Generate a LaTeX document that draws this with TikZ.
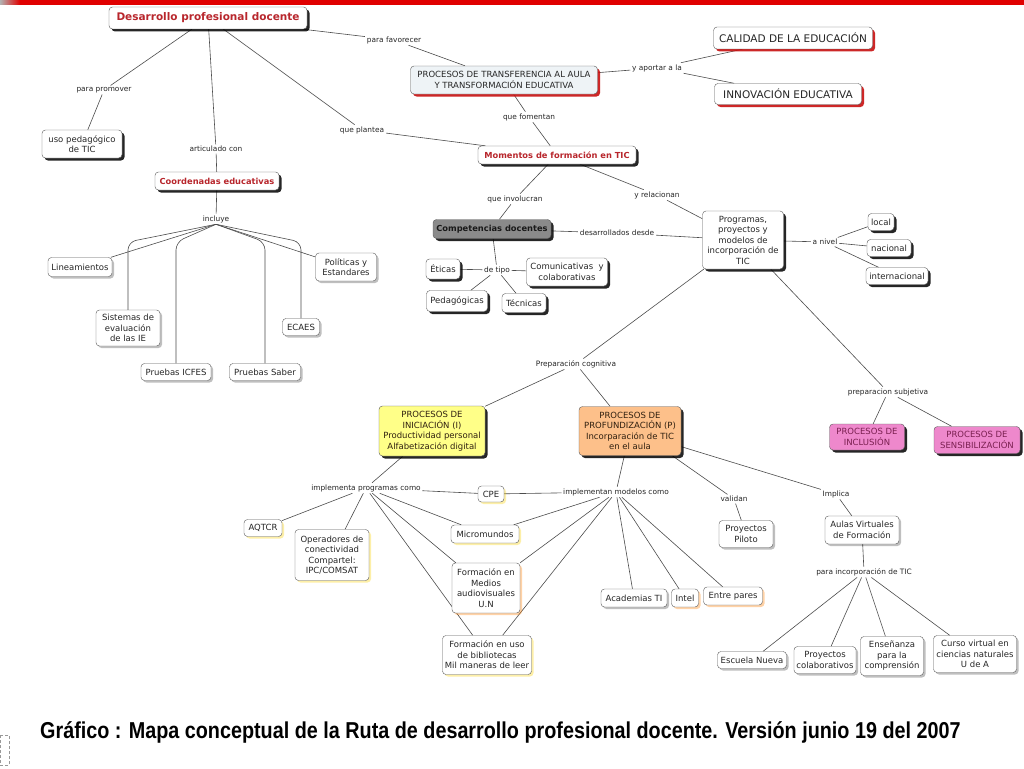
\documentclass[tikz,border=0pt]{standalone}
\usepackage{fontspec}
\setmainfont{DejaVu Sans}
\newfontfamily\capfont{Liberation Sans}
\usepackage{graphicx}
\usetikzlibrary{shadows}
\definecolor{tred}{HTML}{B8262C}
\definecolor{barred}{HTML}{E00000}
\definecolor{shred}{HTML}{C81010}
\definecolor{transf}{HTML}{EEF3F6}
\definecolor{compg}{HTML}{8A8A8A}
\definecolor{yel}{HTML}{FFFF88}
\definecolor{ora}{HTML}{FDC08A}
\definecolor{pink}{HTML}{EE88CC}
\definecolor{pinktxt}{HTML}{7A2050}
\newcommand\cfont{\fontsize{8.5}{10.5}\selectfont}
\newcommand\lfont{\fontsize{7.4}{9}\selectfont}
\newcommand\bigfont{\fontsize{10.5}{12.5}\selectfont}
\newcommand\boldfont{\fontsize{8.3}{10}\selectfont\bfseries}
\newcommand\titfont{\fontsize{10.5}{12.5}\selectfont\bfseries}
\pgfdeclarelayer{bgfill}
\pgfdeclarelayer{background}
\pgfsetlayers{bgfill,background,main}
\begin{document}
\begin{tikzpicture}[x=1pt,y=-1pt,
  base/.style={draw=black!65, rounded corners=3.5pt, align=center, inner sep=1pt, fill=white, text=black!85, font=\cfont},
  sz/.style 2 args={minimum width=#1pt, minimum height=#2pt},
  hardsh/.style={drop shadow={shadow xshift=2.5pt, shadow yshift=-2.5pt, fill=black, opacity=0.85}},
  redsh/.style={drop shadow={shadow xshift=2.5pt, shadow yshift=-2.5pt, fill=shred, opacity=0.9}},
  softsh/.style={drop shadow={shadow xshift=2pt, shadow yshift=-2pt, fill=black, opacity=0.25}},
  ylwsh/.style={drop shadow={shadow xshift=2pt, shadow yshift=-2pt, fill=yellow!70!orange, opacity=0.35}},
  orsh/.style={drop shadow={shadow xshift=2pt, shadow yshift=-2pt, fill=orange, opacity=0.35}},
  lbl/.style={font=\lfont, text=black!85, inner sep=1.5pt, fill=white},
  ln/.style={draw=black!70, line width=0.6pt}
]
\useasboundingbox (0,0) rectangle (1024,768);
\begin{pgfonlayer}{bgfill}
\fill[white] (0,0) rectangle (1024,768);
\fill[barred] (20,0) rectangle (1024,5);
\shade[left color=black!30, right color=barred] (0,0) rectangle (20,5);
\draw[black!40, densely dashed, line width=0.4pt] (0,735) rectangle (9,765);
\end{pgfonlayer}

% ---------- upper concepts
\node[base, hardsh, sz={198}{22}, font=\titfont, text=tred] (dpd) at (208,18) {Desarrollo profesional docente};
\node[base, redsh, sz={187}{28}, fill=transf] (ptr) at (504,80) {PROCESOS DE TRANSFERENCIA AL AULA\\Y TRANSFORMACIÓN EDUCATIVA};
\node[base, redsh, sz={159}{22}, font=\bigfont] (cal) at (793,38) {CALIDAD DE LA EDUCACIÓN};
\node[base, redsh, sz={147}{21}, font=\bigfont] (inn) at (788,94) {INNOVACIÓN EDUCATIVA};
\node[base, hardsh, sz={80}{28}] (uso) at (82,144) {uso pedagógico\\de TIC};
\node[base, hardsh, sz={124}{18}, font=\boldfont, text=tred] (coo) at (217,181) {Coordenadas educativas};
\node[base, hardsh, sz={158}{18}, font=\boldfont, text=tred] (mom) at (557,155) {Momentos de formación en TIC};
\node[base, hardsh, sz={118}{19}, font=\boldfont, fill=compg, text=black!90] (com) at (492,229) {Competencias docentes};
\node[base, hardsh, sz={81}{58}] (pro) at (743,240) {Programas,\\proyectos y\\modelos de\\incorporación de\\TIC};
\node[base, hardsh, sz={26}{17}] (loc) at (881,222) {local};
\node[base, hardsh, sz={44}{17}] (nac) at (889,248) {nacional};
\node[base, hardsh, sz={62}{17}] (int) at (897,276) {internacional};
\node[base, hardsh, sz={34}{20}] (eti) at (443,269) {Éticas};
\node[base, hardsh, sz={81}{28}] (cmc) at (567,272) {Comunicativas~~y\\colaborativas};
\node[base, hardsh, sz={61}{21}] (ped) at (457,301) {Pedagógicas};
\node[base, hardsh, sz={44}{19}] (tec) at (524,303) {Técnicas};
\node[base, softsh, sz={64}{19}] (lin) at (80,267) {Lineamientos};
\node[base, softsh, sz={61}{28}] (pol) at (346,267) {Políticas y\\Estandares};
\node[base, softsh, sz={64}{36}] (sis) at (128,328) {Sistemas de\\evaluación\\de las IE};
\node[base, softsh, sz={37}{17}] (eca) at (301,327) {ECAES};
\node[base, softsh, sz={70}{17}] (icf) at (176,372) {Pruebas ICFES};
\node[base, softsh, sz={71}{17}] (sab) at (265,372) {Pruebas Saber};

% ---------- lower concepts
\node[base, hardsh, sz={106}{50}, fill=yel, text=black!75!brown] (ini) at (432,431) {PROCESOS DE\\INICIACIÓN (I)\\Productividad personal\\Alfabetización digital};
\node[base, hardsh, sz={102}{49}, fill=ora, text=black!75!brown] (prf) at (630,431) {PROCESOS DE\\PROFUNDIZACIÓN (P)\\Incorparación de TIC\\en el aula};
\node[base, hardsh, sz={75}{26}, fill=pink, text=pinktxt] (incl) at (867,437) {PROCESOS DE\\INCLUSIÓN};
\node[base, hardsh, sz={86}{27}, fill=pink, text=pinktxt] (sen) at (977,440) {PROCESOS DE\\SENSIBILIZACIÓN};
\node[base, ylwsh, sz={26}{16}] (cpe) at (491,494) {CPE};
\node[base, ylwsh, sz={38}{17}] (aqt) at (263,528) {AQTCR};
\node[base, ylwsh, sz={74}{51}] (ope) at (332,555) {Operadores de\\conectividad\\Compartel:\\IPC/COMSAT};
\node[base, ylwsh, sz={68}{18}] (mic) at (485,534) {Micromundos};
\node[base, softsh, sz={54}{27}] (pil) at (746,534) {Proyectos\\Piloto};
\node[base, softsh, sz={74}{28}] (aul) at (862,530) {Aulas Virtuales\\de Formación};
\node[base, orsh, sz={68}{50}] (med) at (486,588) {Formación en\\Medios\\audiovisuales\\U.N};
\node[base, softsh, sz={66}{18}] (aca) at (634,598) {Academias TI};
\node[base, orsh, sz={27}{18}] (itl) at (685,598) {Intel};
\node[base, orsh, sz={59}{18}] (par) at (733,596) {Entre pares};
\node[base, ylwsh, sz={89}{39}] (bib) at (487,655) {Formación en uso\\de bibliotecas\\Mil maneras de leer};
\node[base, softsh, sz={69}{17}] (esc) at (752,660) {Escuela Nueva};
\node[base, softsh, sz={62}{27}] (pco) at (825,660) {Proyectos\\colaborativos};
\node[base, softsh, sz={63}{39}] (ens) at (892,656) {Enseñanza\\para la\\comprensión};
\node[base, softsh, sz={83}{37}] (cur) at (975,654) {Curso virtual en\\ciencias naturales\\U de A};

% ---------- linking phrases
\node[lbl] (lfav) at (394,40) {para favorecer};
\node[lbl] (lprom) at (104,90) {para promover};
\node[lbl] (lart) at (216,149) {articulado con};
\node[lbl] (lpla) at (362,130) {que plantea};
\node[lbl] (lapo) at (657,68) {y aportar a la};
\node[lbl] (lfom) at (529,117) {que fomentan};
\node[lbl] (linv) at (515,199) {que involucran};
\node[lbl] (lrel) at (657,195) {y relacionan};
\node[lbl] (linc) at (216,219) {incluye};
\node[lbl] (ldes) at (617,233) {desarrollados desde};
\node[lbl] (ltip) at (497,270) {de tipo};
\node[lbl] (lniv) at (825,242) {a nivel};
\node[lbl] (lcog) at (576,364) {Preparación cognitiva};
\node[lbl] (lsub) at (888,392) {preparacion subjetiva};
\node[lbl] (lipc) at (366,488) {implementa programas como};
\node[lbl] (limc) at (616,492) {implementan modelos como};
\node[lbl] (lval) at (734,499) {validan};
\node[lbl] (limp) at (836,494) {Implica};
\node[lbl] (lpit) at (864,572) {para incorporación de TIC};

% ---------- caption
\node[anchor=base west, inner sep=0] (cap) at (40,738) {\scalebox{0.86}[1]{\capfont\bfseries\fontsize{23}{27}\selectfont Gráfico : Mapa conceptual de la Ruta de desarrollo profesional docente. Versión junio 19 del 2007}};

% ---------- connectors
\begin{pgfonlayer}{background}
\draw[ln] (dpd) -- (lfav);  \draw[ln] (lfav) -- (ptr);
\draw[ln] (dpd) -- (lprom); \draw[ln] (lprom) -- (uso);
\draw[ln] (dpd) -- (lart);  \draw[ln] (lart) -- (coo);
\draw[ln] (dpd) -- (lpla);  \draw[ln] (lpla) -- (mom);
\draw[ln] (ptr) -- (lapo);  \draw[ln] (lapo) -- (cal); \draw[ln] (lapo) -- (inn);
\draw[ln] (ptr) -- (lfom);  \draw[ln] (lfom) -- (mom);
\draw[ln] (mom) -- (linv);  \draw[ln] (linv) -- (com);
\draw[ln] (mom) -- (lrel);  \draw[ln] (lrel) -- (pro);
\draw[ln] (com) -- (ldes);  \draw[ln] (ldes) -- (pro);
\draw[ln] (com) -- (ltip);
\draw[ln] (ltip) -- (eti); \draw[ln] (ltip) -- (cmc); \draw[ln] (ltip) -- (ped); \draw[ln] (ltip) -- (tec);
\draw[ln] (pro) -- (lniv);
\draw[ln] (lniv) -- (loc); \draw[ln] (lniv) -- (nac); \draw[ln] (lniv) -- (int);
\draw[ln] (coo) -- (linc);
\draw[ln] (linc.south) -- (lin);
\draw[ln] (linc.south) -- (pol);
\draw[ln, rounded corners=8pt] (linc.south) -- (128,242) -- (sis.north);
\draw[ln, rounded corners=8pt] (linc.south) -- (176,242) -- (icf.north);
\draw[ln, rounded corners=8pt] (linc.south) -- (265,242) -- (sab.north);
\draw[ln, rounded corners=8pt] (linc.south) -- (301,242) -- (eca.north);
\draw[ln] (pro) -- (lcog); \draw[ln] (lcog) -- (ini); \draw[ln] (lcog) -- (prf);
\draw[ln] (pro) -- (lsub); \draw[ln] (lsub) -- (incl); \draw[ln] (lsub) -- (sen);
\draw[ln] (ini) -- (lipc);
\draw[ln] (lipc) -- (aqt); \draw[ln] (lipc) -- (ope); \draw[ln] (lipc) -- (cpe);
\draw[ln] (lipc) -- (mic); \draw[ln] (lipc) -- (med); \draw[ln] (lipc) -- (bib);
\draw[ln] (prf) -- (limc);
\draw[ln] (limc) -- (cpe); \draw[ln] (limc) -- (mic); \draw[ln] (limc) -- (med); \draw[ln] (limc) -- (bib);
\draw[ln] (limc) -- (aca); \draw[ln] (limc) -- (itl); \draw[ln] (limc) -- (par);
\draw[ln] ([xshift=-9pt]prf.south east) -- (lval); \draw[ln] (lval) -- (pil);
\draw[ln] (prf) -- (limp); \draw[ln] (limp) -- (aul);
\draw[ln] (aul) -- (lpit);
\draw[ln] (lpit) -- (esc); \draw[ln] (lpit) -- (pco); \draw[ln] (lpit) -- (ens); \draw[ln] (lpit) -- (cur);
\end{pgfonlayer}
\end{tikzpicture}
\end{document}
